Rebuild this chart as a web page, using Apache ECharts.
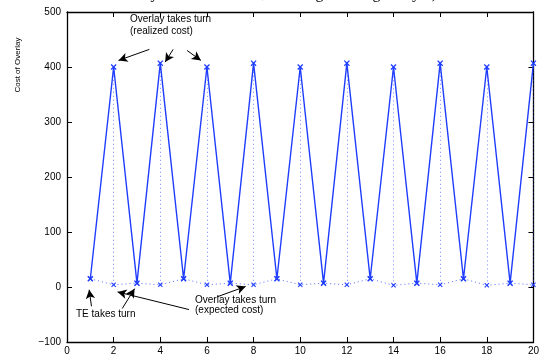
<!DOCTYPE html>
<html>
<head>
<meta charset="utf-8">
<script src="https://cdn.jsdelivr.net/npm/echarts@6/dist/echarts.min.js"></script>
<style>
  html, body { margin: 0; padding: 0; background: #fff; }
  #chart { width: 542px; height: 356px; }
</style>
</head>
<body>
<div id="chart"></div>
<script>
// turn index 1..20
const turns = [1, 2, 3, 4, 5, 6, 7, 8, 9, 10, 11, 12, 13, 14, 15, 16, 17, 18, 19, 20];
// realized cost (solid line)
const realizedCost = [15, 400, 7, 407, 15, 400, 7, 407, 15, 400, 7, 407, 15, 400, 7, 407, 15, 400, 7, 407];
// expected cost (dotted line)
const expectedCost = [15, 4, 7, 4, 15, 4, 7, 4, 15, 4, 7, 4, 15, 3, 7, 4, 15, 3, 7, 4];

const xTicks = [0, 2, 4, 6, 8, 10, 12, 14, 16, 18, 20];
const yTicks = [-100, 0, 100, 200, 300, 400, 500];

const BLUE = '#1f3dff';
const FONT = 'Liberation Sans, Arial, Helvetica, sans-serif';
const xMark = 'path://M0,1.5L1.5,0L5,3.5L8.5,0L10,1.5L6.5,5L10,8.5L8.5,10L5,6.5L1.5,10L0,8.5L3.5,5Z';

// arrows of the annotations, in data units [from, to]
const arrows = [
  [[3.53, 432], [2.21, 412]],
  [[4.55, 432], [4.21, 409]],
  [[5.15, 430], [5.74, 412]],
  [[1.05, -35], [0.95, -5]],
  [[2.37, -39], [2.9, -3]],
  [[5.23, -41], [2.17, -9]],
  [[6.43, -18], [7.66, 1]]
];

const chart = echarts.init(document.getElementById('chart'));

// vertical dotted drops at the even turns
const drops = turns
  .map((t, i) => ({ t, lo: expectedCost[i], hi: realizedCost[i] }))
  .filter(d => d.t % 2 === 0)
  .map(d => [{ coord: [d.t, d.lo] }, { coord: [d.t, d.hi] }]);

const axisCommon = {
  type: 'value',
  axisLine: { show: true, onZero: false, lineStyle: { color: '#000', width: 1.3 } },
  axisTick: { show: true, inside: true, length: 5, lineStyle: { color: '#000', width: 1 } },
  splitLine: { show: false }
};

const option = {
  animation: false,
  backgroundColor: '#fff',
  grid: { left: 67, right: 5, top: 12, bottom: 14 },
  xAxis: [
    Object.assign({}, axisCommon, {
      min: 0, max: 20, interval: 2,
      axisLabel: { color: '#000', fontSize: 10, fontFamily: FONT, margin: 4 }
    }),
    Object.assign({}, axisCommon, {
      position: 'top', min: 0, max: 20, interval: 2,
      axisLabel: { show: false }
    })
  ],
  yAxis: [
    Object.assign({}, axisCommon, {
      min: -100, max: 500, interval: 100,
      axisLabel: {
        color: '#000', fontSize: 10, fontFamily: FONT, margin: 6,
        formatter: v => (v < 0 ? '\u2212' + Math.abs(v) : String(v))
      }
    }),
    Object.assign({}, axisCommon, {
      position: 'right', min: -100, max: 500, interval: 100,
      axisLabel: { show: false }
    })
  ],
  series: [
    {
      name: 'expected',
      type: 'line',
      data: turns.map((t, i) => [t, expectedCost[i]]),
      symbol: xMark,
      symbolSize: 5,
      itemStyle: { color: BLUE },
      lineStyle: { color: BLUE, width: 1, type: [1, 3], opacity: 0.75 },
      z: 2,
      markLine: {
        silent: true,
        symbol: ['none', 'none'],
        label: { show: false },
        lineStyle: { color: BLUE, width: 1, type: [1, 3], opacity: 0.6 },
        data: drops
      }
    },
    {
      name: 'realized',
      type: 'line',
      data: turns.map((t, i) => [t, realizedCost[i]]),
      symbol: xMark,
      symbolSize: 6,
      itemStyle: { color: BLUE },
      lineStyle: { color: BLUE, width: 1.4 },
      z: 3
    },
    {
      name: 'notes',
      type: 'line',
      data: [],
      markLine: {
        silent: true,
        symbol: ['none', 'arrow'],
        symbolSize: [7, 9],
        label: { show: false },
        lineStyle: { color: '#000', width: 1, type: 'solid' },
        data: arrows.map(a => [{ coord: a[0] }, { coord: a[1] }])
      }
    }
  ],
  graphic: [
    {
      type: 'text', x: 0, y: 0,
      style: {
        text: 'Overlay Cost over Time, Coverage Average [days])',
        x: 437, y: 2, align: 'right', verticalAlign: 'bottom',
        font: '16px "Liberation Serif", "Times New Roman", serif', fill: '#000'
      }
    },
    {
      type: 'text', rotation: Math.PI / 2, x: 18, y: 65,
      style: {
        text: 'Cost of Overlay', align: 'center', verticalAlign: 'middle',
        font: '8px ' + FONT, fill: '#000'
      }
    },
    {
      type: 'text', x: 130, y: 25,
      style: {
        text: 'Overlay takes turn\n(realized cost)', verticalAlign: 'middle',
        lineHeight: 11.5, font: '10px ' + FONT, fill: '#000'
      }
    },
    {
      type: 'text', x: 76, y: 314,
      style: {
        text: 'TE takes turn', verticalAlign: 'middle',
        font: '10px ' + FONT, fill: '#000'
      }
    },
    {
      type: 'text', x: 195, y: 305,
      style: {
        text: 'Overlay takes turn\n(expected cost)', verticalAlign: 'middle',
        lineHeight: 10.5, font: '10px ' + FONT, fill: '#000'
      }
    }
  ]
};

chart.setOption(option);
</script>
</body>
</html>
